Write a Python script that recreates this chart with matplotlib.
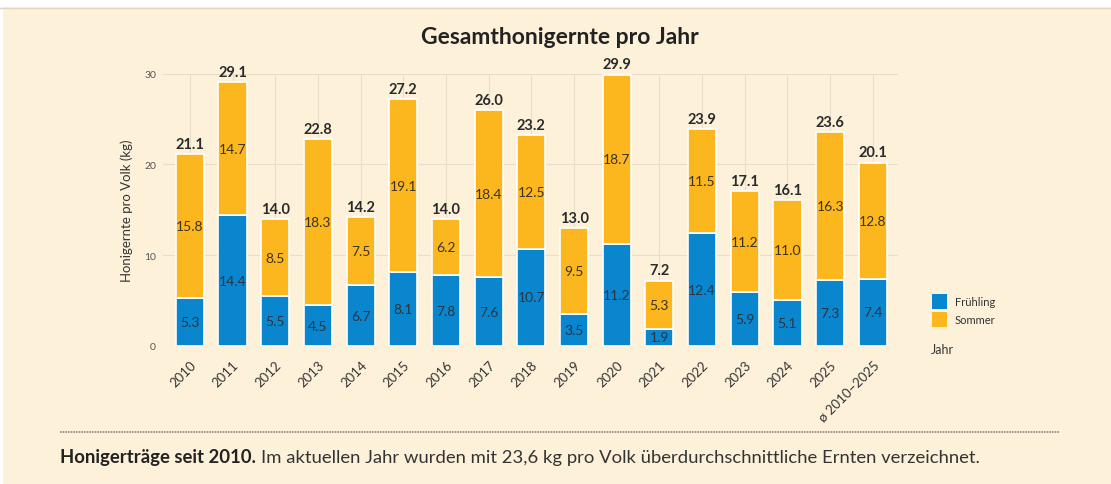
import matplotlib
matplotlib.use("Agg")
import matplotlib.pyplot as plt
import matplotlib.transforms as mtransforms
from matplotlib.patches import Rectangle
from matplotlib.lines import Line2D
import numpy as np

plt.rcParams['font.family'] = ['Lato', 'DejaVu Sans']

years = ["2010", "2011", "2012", "2013", "2014", "2015", "2016", "2017", "2018",
         "2019", "2020", "2021", "2022", "2023", "2024", "2025", "ø 2010–2025"]
fruehling = [5.3, 14.4, 5.5, 4.5, 6.7, 8.1, 7.8, 7.6, 10.7, 3.5, 11.2, 1.9, 12.4, 5.9, 5.1, 7.3, 7.4]
sommer = [15.8, 14.7, 8.5, 18.3, 7.5, 19.1, 6.2, 18.4, 12.5, 9.5, 18.7, 5.3, 11.5, 11.2, 11.0, 16.3, 12.8]
totals = [21.1, 29.1, 14.0, 22.8, 14.2, 27.2, 14.0, 26.0, 23.2, 13.0, 29.9, 7.2, 23.9, 17.1, 16.1, 23.6, 20.1]
yticks = [0, 10, 20, 30]

BG = "#FEF1DA"
BLUE = "#0A86CF"
YELLOW = "#FDB71E"
TXT = "#2a2a2a"

W, H = 1111, 485
fig = plt.figure(figsize=(W / 100, H / 100), dpi=100)
fig.patch.set_facecolor(BG)

# white frame strips
fig.patches.append(Rectangle((0, 1 - 8 / H), 1, 8 / H, transform=fig.transFigure,
                             facecolor="white", edgecolor="none", zorder=0))
fig.patches.append(Rectangle((0, 0), 3 / W, 1, transform=fig.transFigure,
                             facecolor="white", edgecolor="none", zorder=0))
fig.lines.append(Line2D([0, 1], [1 - 8.5 / H, 1 - 8.5 / H], transform=fig.transFigure,
                        color="#E2D6BE", lw=1))

ax = fig.add_axes([163 / W, (H - 347) / H, (898 - 163) / W, (347 - 74.7) / H])
ax.set_facecolor(BG)
x = np.arange(len(years))
bw = 0.66

ax.set_xlim(-0.63, len(years) - 1 + 0.59)
ax.set_ylim(0, 30)

ax.bar(x, fruehling, width=bw, color=BLUE, edgecolor="white", linewidth=1.2,
       label="Frühling", zorder=3)
ax.bar(x, sommer, width=bw, bottom=fruehling, color=YELLOW, edgecolor="white",
       linewidth=1.2, label="Sommer", zorder=3)

for i in range(len(years)):
    ax.text(x[i], fruehling[i] / 2, f"{fruehling[i]:.1f}", ha="center", va="center",
            fontsize=10, color="#2b3440", zorder=4)
    ax.text(x[i], fruehling[i] + sommer[i] / 2, f"{sommer[i]:.1f}", ha="center",
            va="center", fontsize=10, color="#3a3325", zorder=4)
    ax.text(x[i], fruehling[i] + sommer[i] + 0.35, f"{totals[i]:.1f}", ha="center",
            va="bottom", fontsize=10.5, fontweight="bold", color=TXT, zorder=4,
            clip_on=False)

ax.set_yticks(yticks)
ax.set_yticklabels([str(v) for v in yticks], fontsize=7.5, color="#555555")
ax.set_xticks(x)
ax.set_xticklabels(years, rotation=45, ha="right", rotation_mode="anchor",
                   fontsize=9.5, color="#333333")
offset = mtransforms.ScaledTranslation(10 / 100, 0, fig.dpi_scale_trans)
for lab in ax.get_xticklabels():
    lab.set_transform(lab.get_transform() + offset)
ax.tick_params(axis="both", length=0)
ax.tick_params(axis="x", pad=9)
ax.tick_params(axis="y", pad=5)

ax.grid(True, color="#E8DECA", linewidth=0.8, zorder=0)
ax.set_axisbelow(True)
for s in ax.spines.values():
    s.set_visible(False)

ax.set_ylabel("Honigernte pro Volk (kg)", fontsize=9.5, color="#333333", labelpad=8)

fig.text(560 / W, 1 - 38 / H, "Gesamthonigernte pro Jahr", ha="center", va="center",
         fontsize=16.5, fontweight="bold", color="#222222")

# legend
for j, (col, name) in enumerate([(BLUE, "Frühling"), (YELLOW, "Sommer")]):
    y0 = 295 + j * 18
    fig.patches.append(Rectangle((932 / W, 1 - (y0 + 15) / H), 15 / W, 15 / H,
                                 transform=fig.transFigure, facecolor=col,
                                 edgecolor="none"))
    fig.text(955 / W, 1 - (y0 + 7.5) / H, name, ha="left", va="center", fontsize=8,
             color="#333333")
fig.text(931 / W, 1 - 350 / H, "Jahr", ha="left", va="center", fontsize=9,
         color="#333333")

# dotted separator
fig.lines.append(Line2D([60 / W, 1060 / W], [1 - 433 / H, 1 - 433 / H],
                        transform=fig.transFigure, color="#8a8478", lw=1.2,
                        linestyle=(0, (1, 0.6))))

# caption
t1 = fig.text(60 / W, 1 - 458 / H, "Honigerträge seit 2010.", ha="left", va="center",
              fontsize=13.3, fontweight="bold", color="#222222")
fig.canvas.draw()
bb = t1.get_window_extent()
fig.text(bb.x1 / W + 5 / W, 1 - 458 / H,
         "Im aktuellen Jahr wurden mit 23,6 kg pro Volk überdurchschnittliche Ernten verzeichnet.",
         ha="left", va="center", fontsize=13.3, color="#333333")

fig.savefig("out.png", dpi=100, facecolor=fig.get_facecolor())
